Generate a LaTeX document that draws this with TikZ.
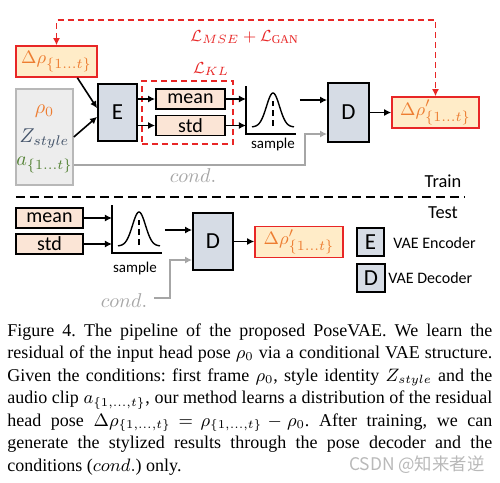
\documentclass[tikz,border=0pt]{standalone}
\usepackage{fontspec}
\setmainfont{Liberation Serif}
\newfontfamily\diafont{Carlito}
\newfontfamily\wmfont{Noto Sans CJK SC}
\usetikzlibrary{arrows.meta}
\definecolor{lossred}{RGB}{232,38,38}
\definecolor{rhoorange}{RGB}{237,125,49}
\definecolor{deltafill}{RGB}{255,236,200}
\definecolor{statfill}{RGB}{251,229,214}
\definecolor{netfill}{RGB}{214,220,229}
\definecolor{condfill}{RGB}{237,237,237}
\definecolor{condgray}{RGB}{166,166,166}
\definecolor{stylecol}{RGB}{68,84,106}
\definecolor{audiocol}{RGB}{84,130,53}
\tikzstyle{net}=[draw=black, line width=0.9pt, fill=netfill, inner sep=0pt, font=\diafont\fontsize{11.5}{12}\selectfont]
\tikzstyle{stat}=[draw=black, line width=0.9pt, fill=statfill, inner sep=0pt, minimum height=10pt, font=\diafont\fontsize{10}{11}\selectfont]
\tikzstyle{delta}=[draw=lossred, line width=0.8pt, fill=deltafill, text=rhoorange, inner sep=0pt, minimum height=15.5pt, font=\fontsize{9.5}{10}\selectfont]
\tikzstyle{flow}=[-{Latex[length=3.5pt,width=3.5pt]}, line width=0.8pt]
\tikzstyle{cond}=[flow, draw=condgray]
\tikzstyle{lossdash}=[draw=lossred, dash pattern=on 3pt off 2pt, line width=0.75pt]
\tikzstyle{loss}=[lossdash, {Latex[length=3.5pt,width=3.5pt]}-{Latex[length=3.5pt,width=3.5pt]}]
\tikzstyle{lbl}=[inner sep=0pt, font=\diafont\fontsize{7.5}{9}\selectfont]
\tikzstyle{divider}=[dash pattern=on 4.5pt off 2.5pt, line width=1pt]
\newcommand{\tsub}{\{1{.}{.}{.}t\}}
\newcommand{\capl}[1]{\hbox to 242.5pt{\spaceskip=2.25pt plus 5pt minus 0.9pt\relax #1}}
\newcommand{\smp}[2]{
  \draw[line width=0.7pt] (#1,#2-48) -- (#1,#2) -- (#1+50,#2);
  \draw[line width=0.7pt] plot[domain=-21:21, samples=50, smooth] ({#1+27+\x},{#2-7-34*exp(-\x*\x/85)});
  \draw[line width=0.8pt, densely dashed] (#1+27,#2-8) -- (#1+27,#2-33)
}

\begin{document}
\begin{tikzpicture}[x=0.5pt, y=-0.5pt]
  \fill[white] (0,0) rectangle (500,483);
  \useasboundingbox (0,0) rectangle (500,483);
  % training part
  \node[delta, minimum width=40.5pt] (drho) at (56.5,61.5) {$\Delta\rho_{\tsub}$};
  \node[draw=condgray!80, fill=condfill, line width=0.8pt, inner sep=0pt, minimum width=28.5pt, minimum height=48pt] (cbox) at (44.5,137) {};
  \node[text=rhoorange] (rho0) at (44.5,111) {$\rho_0$};
  \node[text=stylecol] (zst) at (44.5,139) {$Z_{style}$};
  \node[text=audiocol] (aclip) at (44.5,165) {$a_{\tsub}$};
  \node[net, minimum width=19.5pt, minimum height=28.5pt] (enc) at (117.5,112.5) {E};
  \node[lossdash, minimum width=45.5pt, minimum height=31.5pt] (kl) at (187.5,112.5) {};
  \node[text=lossred, font=\fontsize{8.5}{10}\selectfont] (klA) at (211,69) {$\mathcal{L}_{KL}$};
  \node[stat, minimum width=34.5pt] (meanA) at (190.5,99) {mean};
  \node[stat, minimum width=34.5pt] (stdA) at (190.5,125.5) {std};
  \smp{246}{134};
  \coordinate (axA) at (246,134);
  \node[lbl] (smpA) at (273,144) {sample};
  \node[net, minimum width=20.5pt, minimum height=29.5pt] (decA) at (348.5,112.5) {D};
  \node[delta, minimum width=43.5pt] (drhopA) at (435.5,112.5) {$\Delta\rho'_{\tsub}$};
  \node[text=lossred, font=\fontsize{8.5}{10}\selectfont] (lossA) at (244.5,37) {$\mathcal{L}_{MSE}+\mathcal{L}_{\mathrm{GAN}}$};
  \node[text=condgray] (condA) at (193,176) {$cond.$};
  \coordinate (lossy) at (0,20);
  \coordinate (smpoutA) at (300,100);
  \coordinate (condturnA) at (305,134);
  \draw[loss] (drho.north) -- (drho.north |- lossy) -| (drhopA.north);
  \draw[flow] (drho.-38) -- (enc.168);
  \draw[flow] (cbox.east) -- (enc.192);
  \draw[flow] (enc.east |- meanA) -- (meanA.west);
  \draw[flow] (enc.east |- stdA) -- (stdA.west);
  \draw[flow] (meanA.east) -- (axA |- meanA.east);
  \draw[flow] (stdA.east) -- (axA |- stdA.east);
  \draw[flow] (smpoutA) -- (decA.west |- smpoutA);
  \draw[cond] (cbox.east |- aclip) -| (condturnA) -- (decA.west |- condturnA);
  \draw[flow] (decA) -- (drhopA);
  \node[font=\diafont\fontsize{9.2}{10}\selectfont] (train) at (443,181) {Train};
  \draw[divider] (16,197) -- (465,197);
  \node[font=\diafont\fontsize{9.2}{10}\selectfont] (test) at (443,213) {Test};
  % test part
  \node[stat, minimum width=33.5pt] (meanB) at (49.5,218) {mean};
  \node[stat, minimum width=33.5pt] (stdB) at (49.5,244) {std};
  \smp{112}{253};
  \coordinate (axB) at (112,253);
  \node[lbl] (smpB) at (135,268) {sample};
  \node[net, minimum width=20pt, minimum height=28.5pt] (decB) at (213,241.5) {D};
  \node[delta, minimum width=44pt] (drhopB) at (299,242) {$\Delta\rho'_{\tsub}$};
  \node[text=condgray] (condB) at (124,301) {$cond.$};
  \coordinate (smpoutB) at (165,230);
  \coordinate (condturnB) at (170,260);
  \draw[flow] (meanB.east) -- (axB |- meanB.east);
  \draw[flow] (stdB.east) -- (axB |- stdB.east);
  \draw[flow] (smpoutB) -- (decB.west |- smpoutB);
  \draw[cond] ([yshift=1.5pt]condB.east) -| (condturnB) -- (decB.west |- condturnB);
  \draw[flow] (decB.east) -- (drhopB.west |- decB.east);
  % legend
  \node[net, minimum width=13.5pt, minimum height=14pt] (encL) at (370.5,242) {E};
  \node[lbl, anchor=west, font=\diafont\fontsize{8}{9}\selectfont] (encT) at (393,243) {VAE Encoder};
  \node[net, minimum width=14pt, minimum height=14pt] (decL) at (371,278) {D};
  \node[lbl, anchor=west, font=\diafont\fontsize{8}{9}\selectfont] (decT) at (388,278) {VAE Decoder};
  % caption
  \node[anchor=north west, inner sep=0pt, text width=242.5pt, font=\fontsize{9}{11.25}\selectfont\frenchspacing] (capt) at (7,323) {%
    \capl{Figure 4. The pipeline of the proposed PoseVAE. We learn the}
    \capl{residual of the input head pose $\rho_0$ via a conditional VAE structure.}
    \capl{Given the conditions: first frame $\rho_0$, style identity $Z_{style}$ and the}
    \capl{audio clip $a_{\{1,\ldots,t\}}$, our method learns a distribution of the residual}
    \capl{head pose $\Delta\rho_{\{1,\ldots,t\}}=\rho_{\{1,\ldots,t\}}-\rho_0$. After training, we can}
    \capl{generate the stylized results through the pose decoder and the}
    \capl{conditions ($cond.$) only.\hfil}};
  \node[text=gray!55, inner sep=0pt, font=\wmfont\fontsize{8.7}{10}\selectfont, anchor=east] (wm) at (485,465) {CSDN @知来者逆};
\end{tikzpicture}
\end{document}
